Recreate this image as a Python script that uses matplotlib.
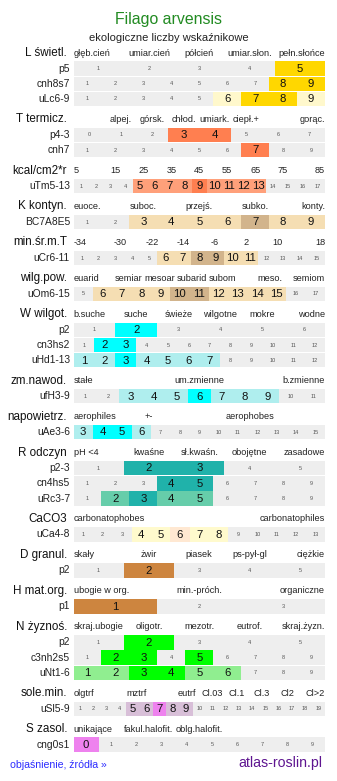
import matplotlib.pyplot as plt

plt.rcParams['font.family'] = ['Liberation Sans', 'DejaVu Sans']

TITLE = "Filago arvensis"
SUBTITLE = "ekologiczne liczby wskaźnikowe"
FOOT_LEFT = "objaśnienie, źródła »"
FOOT_RIGHT = "atlas-roslin.pl"

SECTIONS = ["L świetl.", "T termicz.", "kcal/cm2*r", "K kontyn.", "min.śr.m.T",
            "wilg.pow.", "W wilgot.", "zm.nawod.", "napowietrz.", "R odczyn",
            "CaCO3", "D granul.", "H mat.org.", "N żyznoś.", "sole.min.", "S zasol."]

# header labels, one entry per column ("" = empty column)
HEADS = [
    ["głęb.cień", "umiar.cień", "półcień", "umiar.słon.", "pełn.słońce"],
    ["", "alpej.", "górsk.", "chłod.", "umiark.", "ciepł.+", "", "gorąc."],
    ["5", "15", "25", "35", "45", "55", "65", "75", "85"],
    ["euoce.", "", "suboc.", "", "przejś.", "", "subko.", "", "konty."],
    ["-34", "-30", "-22", "-14", "-6", "2", "10", "18"],
    ["euarid", "", "", "semiar", "", "mesoar", "", "subarid", "", "subom", "", "",
     "meso.", "", "", "semiom"],
    ["b.suche", "suche", "świeże", "wilgotne", "mokre", "wodne"],
    ["stałe", "um.zmienne", "b.zmienne"],
    ["aerophiles", "+-", "", "aerophobes", ""],
    ["pH <4", "kwaśne", "sł.kwaśn.", "obojętne", "zasadowe"],
    ["carbonatophobes", "carbonatophiles"],
    ["skały", "żwir", "piasek", "ps-pył-gl", "ciężkie"],
    ["ubogie w org.", "min.-próch.", "organiczne"],
    ["skraj.ubogie", "oligotr.", "mezotr.", "eutrof.", "skraj.żyzn."],
    ["olgtrf", "", "mztrf", "", "eutrf", "Cl.03", "Cl.1", "Cl.3", "Cl2", "Cl>2"],
    ["unikające", "fakul.halofit.", "oblg.halofit.", "", ""],
]

ROW_NAMES = ["p5", "cnh8s7", "uLc6-9", "p4-3", "cnh7", "uTm5-13", "BC7A8E5", "uCr6-11",
             "uOm6-15", "p2", "cn3hs2", "uHd1-13", "ufH3-9", "uAe3-6", "p2-3", "cn4hs5",
             "uRc3-7", "uCa4-8", "p2", "p1", "p2", "c3nh2s5", "uNt1-6", "uSl5-9", "cng0s1"]
ROW_SECTION = [0, 0, 0, 1, 1, 2, 3, 4, 5, 6, 6, 6, 7, 8, 9, 9, 9, 10, 11, 12, 13, 13, 13, 14, 15]
ROW_LO = [1, 1, 1, 0, 1, 1, 1, 1, 5, 1, 1, 1, 1, 3, 1, 1, 1, 1, 1, 1, 1, 1, 1, 1, 0]
ROW_HI = [5, 9, 9, 7, 9, 17, 9, 15, 17, 6, 12, 12, 11, 15, 5, 9, 9, 13, 5, 3, 5, 9, 9, 19, 9]
ROW_MAIN = [[5], [8, 9], [7, 8], [3, 4], [7], [9], [7], [8, 9], [10, 11], [2], [2, 3], [3],
            [6], [4, 5], [2, 3], [4, 5], [3], [6], [2], [1], [2], [2, 3, 5], [3, 4], [7], [0]]
ROW_SIDE = [[], [], [6, 9], [], [], [5, 6, 7, 8, 10, 11, 12, 13], [3, 4, 5, 6, 8, 9],
            [6, 7, 10, 11], [6, 7, 8, 9, 12, 13, 14, 15], [], [], [1, 2, 4, 5, 6, 7],
            [3, 4, 5, 7, 8, 9], [3, 6], [], [], [2, 4, 5], [4, 5, 7, 8], [], [], [], [],
            [1, 2, 5, 6], [5, 6, 8, 9], []]

# colours per section
MAIN_COL = ['#FFD700', '#FF7F50', '#FF7F50', '#D2B48C', '#D2B48C', '#D2B48C', '#00FFFF',
            '#00FFFF', '#00FFFF', '#20B2AA', '#FFE8D2', '#CD853F', '#CD853F', '#00FF00',
            '#EE82EE', '#EE82EE']
SIDE_COL = ['#FFF8CC', '#FFA07A', '#FFA07A', '#F5DEB3', '#F5DEB3', '#F5DEB3', '#AFEEEE',
            '#AFEEEE', '#AFEEEE', '#66CDAA', '#FFFACD', '#CD853F', '#CD853F', '#90EE90',
            '#D8BFD8', '#D8BFD8']
BG = '#EEEEEE'

W, H = 337, 781
X0, X1 = 73.5, 325
ROW_H = 15.2
fig = plt.figure(figsize=(W / 100, H / 100), dpi=100)
ax = fig.add_axes([0, 0, 1, 1])
ax.set_xlim(0, W)
ax.set_ylim(H, 0)
ax.axis('off')

ax.text(W / 2, 19.5, TITLE, ha='center', va='center', fontsize=11.4, color='#228B22')
ax.text(W / 2, 38, SUBTITLE, ha='center', va='center', fontsize=8, color='#222222')

y = 53.0
for s, name in enumerate(SECTIONS):
    # header line
    ax.text(67, y, name, ha='right', va='center', fontsize=8.4, color='#111111')
    head = HEADS[s]
    cw = (X1 - X0) / len(head)
    for i, lab in enumerate(head):
        if not lab:
            continue
        if i == 0:
            x, ha = X0, 'left'
        elif i == len(head) - 1:
            x, ha = X1, 'right'
        else:
            x, ha = X0 + (i + 0.5) * cw, 'center'
        ax.text(x, y, lab, ha=ha, va='center', fontsize=6.6, color='#222222')

    top = y + 8.0
    rows = [r for r in range(len(ROW_NAMES)) if ROW_SECTION[r] == s]
    for r in rows:
        yc = top + ROW_H / 2
        lo, hi = ROW_LO[r], ROW_HI[r]
        n = hi - lo + 1
        w = (X1 - X0) / n
        ax.barh(yc, X1 - X0, left=X0, height=ROW_H - 0.8, color=BG, linewidth=0)
        for v in range(lo, hi + 1):
            left = X0 + (v - lo) * w
            if v in ROW_MAIN[r] or v in ROW_SIDE[r]:
                col = MAIN_COL[s] if v in ROW_MAIN[r] else SIDE_COL[s]
                ax.barh(yc, w, left=left, height=ROW_H - 0.8, color=col, linewidth=0)
                ax.text(left + w / 2, yc + 0.3, str(v), ha='center', va='center',
                        fontsize=8.2, color='#111111')
            else:
                ax.text(left + w / 2, yc, str(v), ha='center', va='center',
                        fontsize=4, color='#555555')
        ax.text(70, yc, ROW_NAMES[r], ha='right', va='center', fontsize=7.4, color='#222222')
        top += ROW_H
    y = top + 12.75

ax.text(10, 765.5, FOOT_LEFT, ha='left', va='center', fontsize=7.6, color='#2B2BFF')
ax.text(322, 763.5, FOOT_RIGHT, ha='right', va='center', fontsize=10.2, color='#5E1590')

fig.savefig("out.png", dpi=100)
